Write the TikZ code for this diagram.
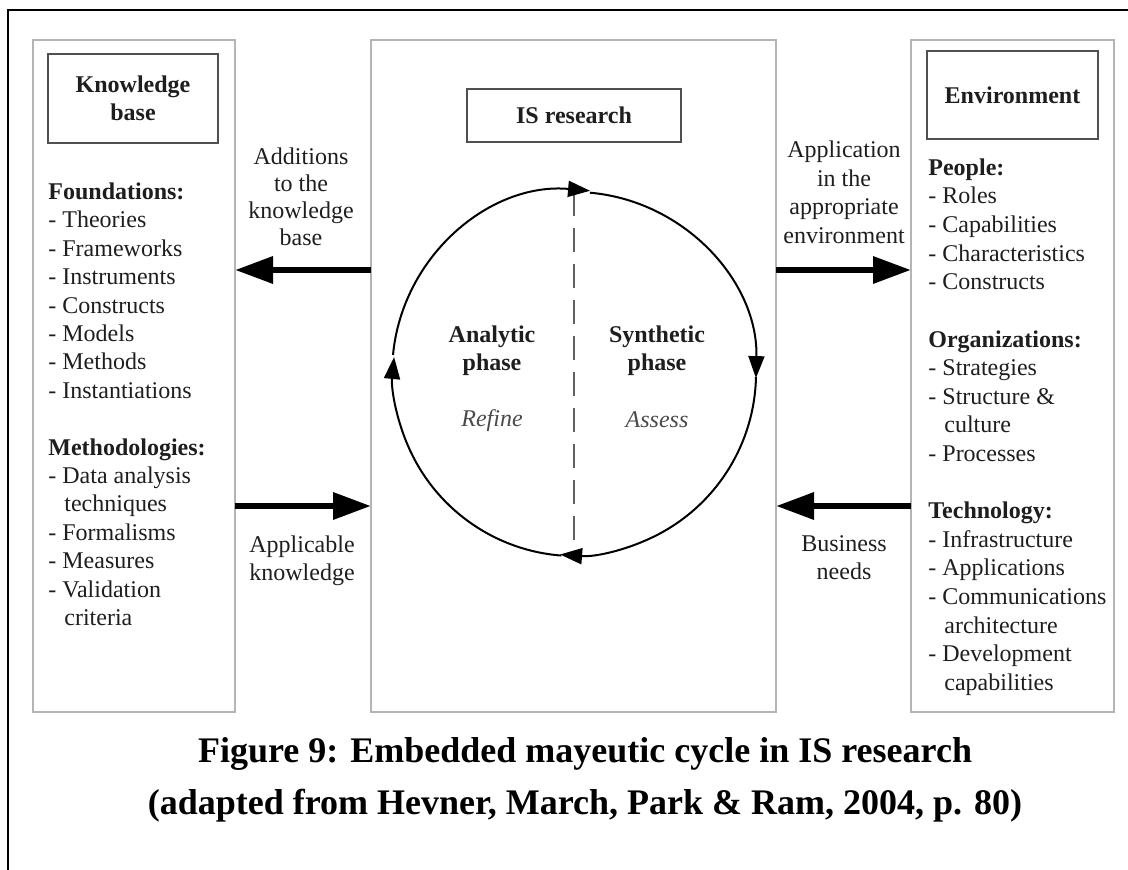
\documentclass[tikz,border=0pt]{standalone}
\usepackage{fontspec}
\setmainfont{Liberation Serif}
\usetikzlibrary{arrows.meta}
\definecolor{ink}{HTML}{1E1E1E}
\definecolor{panelgray}{HTML}{B4B4B4}
\definecolor{boxgray}{HTML}{505050}
\definecolor{notegray}{HTML}{4A4A4A}
\definecolor{dashgray}{HTML}{606060}
% fixed height for the first line of a block, so that "north" sits 10pt above its baseline
\newcommand{\topline}{\rule{0pt}{10pt}}
\newcommand{\hang}{\phantom{- }\hspace{1pt}}
\begin{document}
\begin{tikzpicture}[x=0.5pt,y=0.5pt,
  panel/.style={draw=panelgray, line width=0.8pt, inner sep=0pt, outer sep=0pt},
  titlebox/.style={draw=boxgray, line width=1.1pt, inner sep=0pt, outer sep=0pt,
    font=\bfseries\fontsize{12}{14}\selectfont, text=ink, align=center},
  body/.style={font=\fontsize{12}{14.2}\selectfont, text=ink, inner sep=0pt,
    align=left, anchor=north west},
  flowlabel/.style={font=\fontsize{12}{14}\selectfont, text=ink, inner sep=0pt,
    align=center, anchor=north},
  phase/.style={font=\bfseries\fontsize{12}{14}\selectfont, text=ink, inner sep=0pt,
    align=center, anchor=north},
  verb/.style={font=\itshape\fontsize{12}{14}\selectfont, text=notegray, inner sep=0pt,
    anchor=base},
  caption/.style={font=\bfseries\fontsize{18}{22}\selectfont, text=black, inner sep=0pt,
    anchor=base},
  bigarrow/.style={line width=3.2pt, -{Triangle[length=19pt,width=13pt]}},
  cyclearrow/.style={line width=1pt, -{Triangle[length=11pt,width=8pt]}},
]
\useasboundingbox (0,0) rectangle (1128,-870);

% outer frame (top and left edges)
\draw[line width=1pt] (8,-870) -- (8,-10) -- (1128,-10);

% the three columns
\node[panel, minimum width=101pt, minimum height=336pt] (kbpanel) at (134,-376) {};
\node[panel, minimum width=202.5pt, minimum height=336pt] (ispanel) at (573.5,-376) {};
\node[panel, minimum width=101.5pt, minimum height=336pt] (envpanel) at (1012.5,-376) {};

% column titles
\node[titlebox, minimum width=85pt, minimum height=44.5pt] (kbbox) at (133,-98.5) {Knowledge\\base};
\node[titlebox, minimum width=107pt, minimum height=26.5pt] (isbox) at (574,-115.5) {IS research};
\node[titlebox, minimum width=85.5pt, minimum height=44pt] (envbox) at (1012.5,-95) {Environment};

% knowledge base contents
\node[body] (kblist) at (48,-179) {\topline\textbf{Foundations:}\\
- Theories\\
- Frameworks\\
- Instruments\\
- Constructs\\
- Models\\
- Methods\\
- Instantiations\\[14.2pt]
\textbf{Methodologies:}\\
- Data analysis\\
\hang techniques\\
- Formalisms\\
- Measures\\
- Validation\\
\hang criteria};

% environment contents
\node[body, font=\fontsize{12}{14.3}\selectfont] (envlist) at (928,-155) {\topline\textbf{People:}\\
- Roles\\
- Capabilities\\
- Characteristics\\
- Constructs\\[14.3pt]
\textbf{Organizations:}\\
- Strategies\\
- Structure \&\\
\hang culture\\
- Processes\\[14.3pt]
\textbf{Technology:}\\
- Infrastructure\\
- Applications\\
- Communications\\
\hang architecture\\
- Development\\
\hang capabilities};

% rows of the exchange arrows
\coordinate (rowtop) at (0,-270);
\coordinate (rowbot) at (0,-506);

\draw[bigarrow] (ispanel.west |- rowtop) -- (kbpanel.east |- rowtop);
\draw[bigarrow] (kbpanel.east |- rowbot) -- (ispanel.west |- rowbot);
\draw[bigarrow] (ispanel.east |- rowtop) -- (envpanel.west |- rowtop);
\draw[bigarrow] (envpanel.west |- rowbot) -- (ispanel.east |- rowbot);

\node[flowlabel, font=\fontsize{12}{13.6}\selectfont] (addlbl) at (301,-144) {\topline Additions\\to the\\knowledge\\base};
\node[flowlabel] (applbl) at (302,-532) {\topline Applicable\\knowledge};
\node[flowlabel, font=\fontsize{12}{14.35}\selectfont] (envlbl) at (844,-137) {\topline Application\\in the\\appropriate\\environment};
\node[flowlabel] (buslbl) at (844,-531) {\topline Business\\needs};

% the mayeutic cycle
\node[circle, minimum size=182pt, inner sep=0pt, outer sep=0pt] (cyc) at (574,-374) {};
\draw[dashgray, line width=1pt, dash pattern=on 12pt off 6pt] (cyc.north) -- (cyc.south);
\draw[cyclearrow] (cyc.174.6) arc[start angle=174.6, end angle=85, radius=91pt];
\draw[cyclearrow] (cyc.85) arc[start angle=85, end angle=-1.3, radius=91pt];
\draw[cyclearrow] (cyc.-1.3) arc[start angle=-1.3, end angle=-94.4, radius=91pt];
\draw[cyclearrow] (cyc.-94.4) arc[start angle=-94.4, end angle=-185.4, radius=91pt];

\node[phase] (anlbl) at (492,-322) {\topline Analytic\\phase};
\node[verb] (refine) at (492,-427) {Refine};
\node[phase] (synlbl) at (657,-322) {\topline Synthetic\\phase};
\node[verb] (assess) at (657,-428) {Assess};

% caption
\node[caption] (cap1) at (585,-762) {Figure 9: Embedded mayeutic cycle in IS research};
\node[caption] (cap2) at (585,-814) {(adapted from Hevner, March, Park \& Ram, 2004, p. 80)};
\end{tikzpicture}
\end{document}
